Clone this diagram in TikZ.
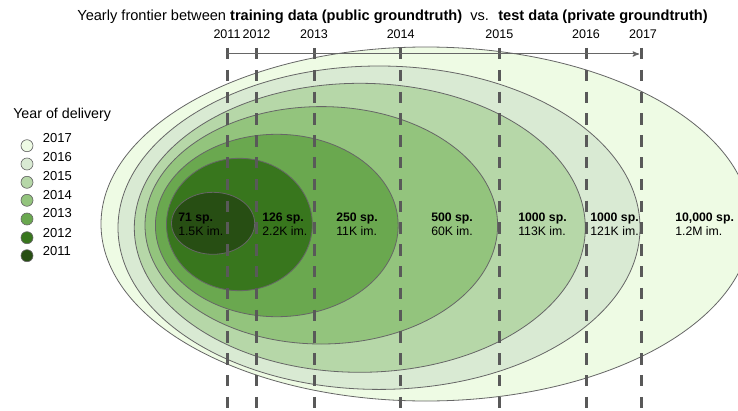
\documentclass[tikz,border=0pt]{standalone}
\usepackage{fontspec}
\setmainfont{Liberation Sans}
\usetikzlibrary{arrows}

\definecolor{c2011}{HTML}{274E13}
\definecolor{c2012}{HTML}{38761D}
\definecolor{c2013}{HTML}{6AA84F}
\definecolor{c2014}{HTML}{93C47D}
\definecolor{c2015}{HTML}{B6D7A8}
\definecolor{c2016}{HTML}{D9EAD3}
\definecolor{c2017}{HTML}{EEFBE4}
\definecolor{frontier}{HTML}{595959}
\definecolor{rim}{HTML}{666666}

\begin{document}
\begin{tikzpicture}[
	x=0.75pt,
	y=-0.75pt,
	>=stealth',
	band/.style={draw=rim, line width=0.6pt},
	frontline/.style={frontier, line width=2.25pt, dash pattern=on 8.6pt off 7.75pt},
	yearlab/.style={anchor=base, inner sep=0pt, font=\fontsize{9.4}{11}\selectfont},
	sizelab/.style={anchor=west, align=left, inner sep=0pt, font=\fontsize{9.2}{10.5}\selectfont},
	legdot/.style={draw=rim, line width=0.5pt},
	legtext/.style={anchor=west, inner sep=0pt, font=\fontsize{9.75}{11}\selectfont}
]
\useasboundingbox (0,0) rectangle (738,410);
\clip (0,0) rectangle (738,410);

% nested years, largest first
\filldraw[band, fill=c2017] (426,224) ellipse [x radius=325, y radius=177];
\filldraw[band, fill=c2016] (379,227.7) ellipse [x radius=261, y radius=161.7];
\filldraw[band, fill=c2015] (359.8,227.8) ellipse [x radius=225.5, y radius=144.5];
\filldraw[band, fill=c2014] (321.3,225.3) ellipse [x radius=176.3, y radius=118.7];
\filldraw[band, fill=c2013] (276.8,225.5) ellipse [x radius=121.4, y radius=91.2];
\filldraw[band, fill=c2012] (239.4,224.5) ellipse [x radius=72.9, y radius=66.2];
\filldraw[band, fill=c2011] (213.1,223.3) ellipse [x radius=41.6, y radius=31];

\node[sizelab] (s2011) at (178,224.7) {\textbf{71 sp.}\\1.5K im.};
\node[sizelab] (s2012) at (262,224.7) {\textbf{126 sp.}\\2.2K im.};
\node[sizelab] (s2013) at (336,224.7) {\textbf{250 sp.}\\11K im.};
\node[sizelab] (s2014) at (431,224.7) {\textbf{500 sp.}\\60K im.};
\node[sizelab] (s2015) at (518,224.7) {\textbf{1000 sp.}\\113K im.};
\node[sizelab] (s2016) at (590,224.7) {\textbf{1000 sp.}\\121K im.};
\node[sizelab] (s2017) at (675,224.7) {\textbf{10,000 sp.}\\1.2M im.};

% frontier lines
\draw[frontline] (227,48) -- (227,412);
\draw[frontline] (256.5,48) -- (256.5,412);
\draw[frontline] (314,48) -- (314,412);
\draw[frontline] (400.7,48) -- (400.7,412);
\draw[frontline] (499.3,48) -- (499.3,412);
\draw[frontline] (586,48) -- (586,412);
\draw[frontline] (641.7,48) -- (641.7,412);

\draw[->, rim, line width=0.75pt] (227,54) -- (639,54);

\node[yearlab] (y2011) at (227,38.3) {2011};
\node[yearlab] (y2012) at (256.5,38.3) {2012};
\node[yearlab] (y2013) at (314,38.3) {2013};
\node[yearlab] (y2014) at (400.7,38.3) {2014};
\node[yearlab] (y2015) at (499.3,38.3) {2015};
\node[yearlab] (y2016) at (586,38.3) {2016};
\node[yearlab] (y2017) at (643,38.3) {2017};

\node[anchor=base, inner sep=0pt, font=\fontsize{10.95}{13}\selectfont] (title) at (392.5,20.5)
	{Yearly frontier between \textbf{training data (public groundtruth)}~ vs.~ \textbf{test data (private groundtruth)}};

% legend
\node[anchor=base west, inner sep=0pt, font=\fontsize{10.7}{13}\selectfont] (legtitle) at (13,118.3) {Year of delivery};
\filldraw[legdot, fill=c2017] (27,145.7) circle [radius=6];
\filldraw[legdot, fill=c2016] (27,164) circle [radius=6];
\filldraw[legdot, fill=c2015] (27,182.3) circle [radius=6];
\filldraw[legdot, fill=c2014] (27,200.3) circle [radius=6];
\filldraw[legdot, fill=c2013] (27,219) circle [radius=6];
\filldraw[legdot, fill=c2012] (27,237.7) circle [radius=6];
\filldraw[legdot, fill=c2011] (27,255.7) circle [radius=6];
\node[legtext] (l2017) at (42.7,138.3) {2017};
\node[legtext] (l2016) at (42.7,157.3) {2016};
\node[legtext] (l2015) at (42.7,176) {2015};
\node[legtext] (l2014) at (42.7,195) {2014};
\node[legtext] (l2013) at (42.7,213.3) {2013};
\node[legtext] (l2012) at (42.7,232.7) {2012};
\node[legtext] (l2011) at (42.7,251.3) {2011};
\end{tikzpicture}
\end{document}
